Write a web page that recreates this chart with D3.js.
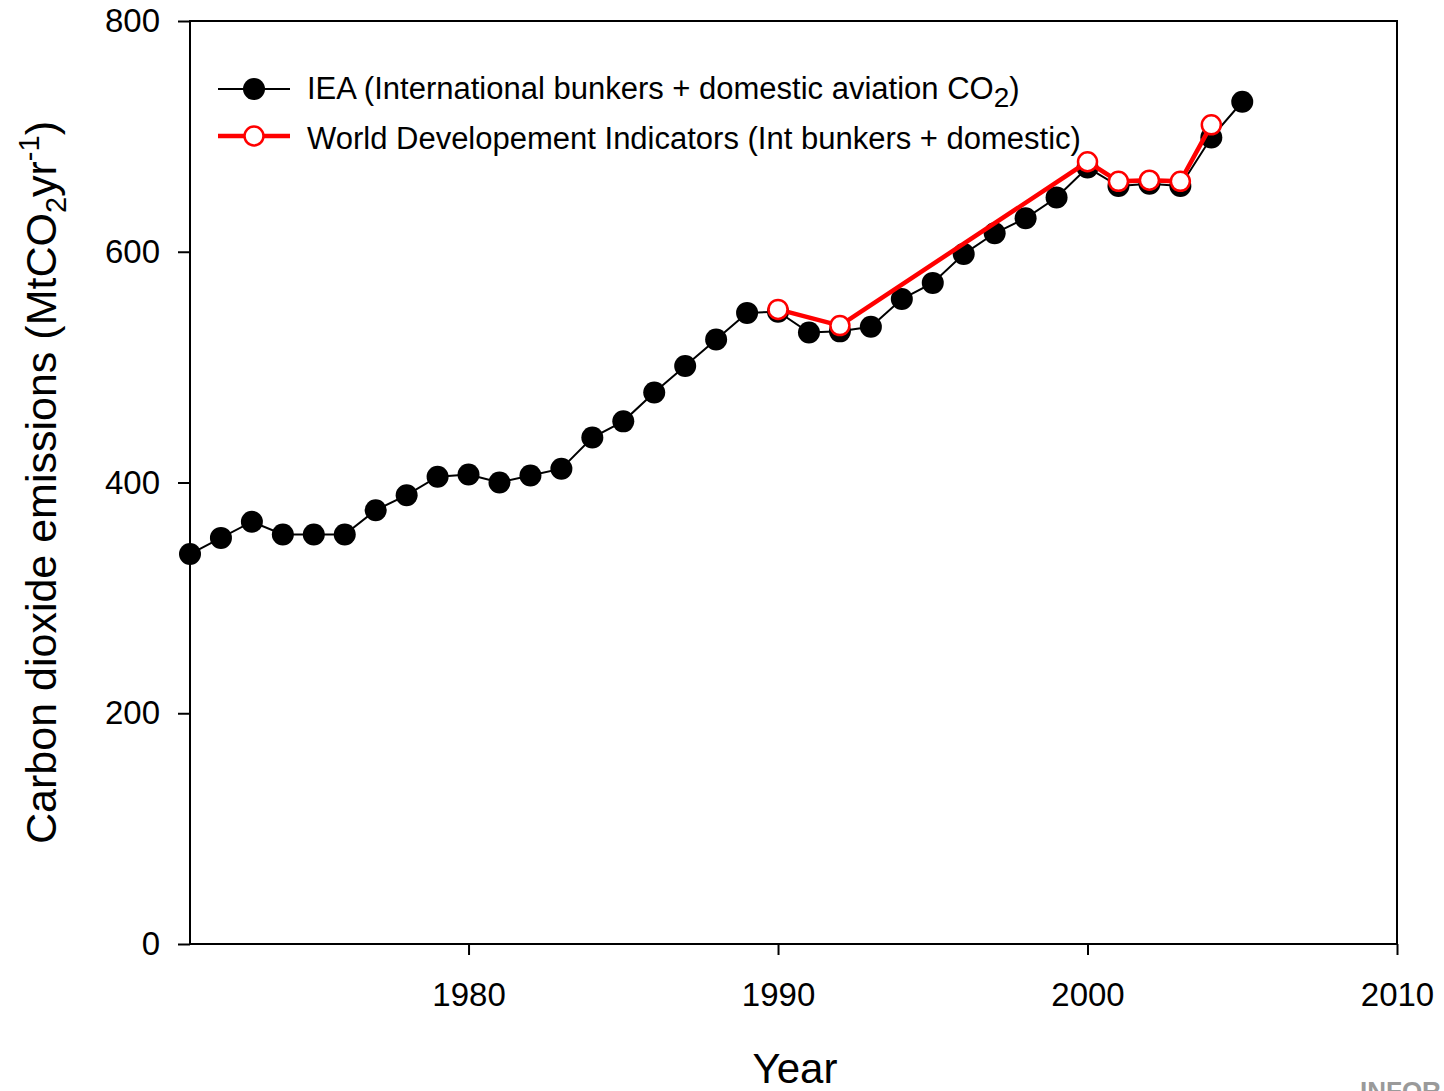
<!DOCTYPE html>
<html>
<head>
<meta charset="utf-8">
<script src="https://cdn.jsdelivr.net/npm/d3@7"></script>
<style>
  body { margin: 0; background: #fff; }
  text { font-family: "Liberation Sans", Arial, sans-serif; }
</style>
</head>
<body>
<div id="chart"></div>
<script>
// data
const ieaYears = [1971, 1972, 1973, 1974, 1975, 1976, 1977, 1978, 1979, 1980,
    1981, 1982, 1983, 1984, 1985, 1986, 1987, 1988, 1989, 1990,
    1991, 1992, 1993, 1994, 1995, 1996, 1997, 1998, 1999, 2000,
    2001, 2002, 2003, 2004, 2005];
const ieaValues = [338, 352, 366, 355, 355, 355, 376, 389, 405, 407,
    400, 406, 412, 439, 453, 478, 501, 524, 547, 548,
    530, 531, 535, 559, 573, 598, 616, 629, 647, 673,
    657, 659, 657, 699, 730];
const wdiYears = [1990, 1992, 2000, 2001, 2002, 2003, 2004];
const wdiValues = [550, 536, 678, 661, 662, 661, 710];
const xTicks = [1980, 1990, 2000, 2010];
const yTicks = [0, 200, 400, 600, 800];

const width = 1444;
const height = 1091;
const marginLeft = 190;
const marginRight = 47;
const marginTop = 21;
const marginBottom = 147;

const svg = d3.select("#chart")
    .append("svg")
    .attr("width", width)
    .attr("height", height);

const x = d3.scaleLinear()
    .domain([1971, 2010])
    .range([marginLeft, width - marginRight]);

const y = d3.scaleLinear()
    .domain([0, 800])
    .range([height - marginBottom, marginTop]);

// cadre
svg.append("rect")
    .attr("x", x(1971))
    .attr("y", y(800))
    .attr("width", x(2010) - x(1971))
    .attr("height", y(0) - y(800))
    .attr("fill", "none")
    .attr("stroke", "#000")
    .attr("stroke-width", 2);

// axe X
const xAxis = svg.append("g")
    .attr("transform", `translate(0,${y(0)})`)
    .call(d3.axisBottom(x).tickValues(xTicks).tickFormat(d3.format("d")).tickSize(11).tickSizeOuter(0).tickPadding(28));
xAxis.select(".domain").remove();
xAxis.selectAll("line").attr("stroke-width", 2);
xAxis.selectAll("text").attr("font-size", 33).attr("font-family", "Liberation Sans").attr("fill", "#000");

// axe Y
const yAxis = svg.append("g")
    .attr("transform", `translate(${x(1971)},0)`)
    .call(d3.axisLeft(y).tickValues(yTicks).tickSize(12).tickSizeOuter(0).tickPadding(18));
yAxis.select(".domain").remove();
yAxis.selectAll("line").attr("stroke-width", 2);
yAxis.selectAll("text").attr("font-size", 33).attr("font-family", "Liberation Sans").attr("fill", "#000");

// titres
svg.append("text")
    .attr("x", 795)
    .attr("y", 1083)
    .attr("text-anchor", "middle")
    .attr("font-size", 42)
    .text("Year");

const yTitle = svg.append("text")
    .attr("transform", `translate(56,${y(400)}) rotate(-90)`)
    .attr("text-anchor", "middle")
    .attr("font-size", 43);
yTitle.append("tspan").text("Carbon dioxide emissions (MtCO");
yTitle.append("tspan").attr("font-size", 29).attr("dy", 10).text("2");
yTitle.append("tspan").attr("dy", -10).text("yr");
yTitle.append("tspan").attr("font-size", 29).attr("dy", -17).text("-1");
yTitle.append("tspan").attr("dy", 17).text(")");

// séries
const ieaData = ieaYears.map((d, i) => ({year: d, value: ieaValues[i]}));
const wdiData = wdiYears.map((d, i) => ({year: d, value: wdiValues[i]}));

const line = d3.line()
    .x(d => x(d.year))
    .y(d => y(d.value));

svg.append("path")
    .datum(ieaData)
    .attr("d", line)
    .attr("fill", "none")
    .attr("stroke", "#000")
    .attr("stroke-width", 2);

svg.append("g")
    .selectAll("circle")
    .data(ieaData)
    .join("circle")
    .attr("cx", d => x(d.year))
    .attr("cy", d => y(d.value))
    .attr("r", 11)
    .attr("fill", "#000");

svg.append("path")
    .datum(wdiData)
    .attr("d", line)
    .attr("fill", "none")
    .attr("stroke", "#ff0000")
    .attr("stroke-width", 4.5);

svg.append("g")
    .selectAll("circle")
    .data(wdiData)
    .join("circle")
    .attr("cx", d => x(d.year))
    .attr("cy", d => y(d.value))
    .attr("r", 9.5)
    .attr("fill", "#fff")
    .attr("stroke", "#ff0000")
    .attr("stroke-width", 2.5);

// légende
const legend = svg.append("g");
legend.append("line").attr("x1", 218).attr("x2", 290).attr("y1", 89).attr("y2", 89)
    .attr("stroke", "#000").attr("stroke-width", 2);
legend.append("circle").attr("cx", 254).attr("cy", 89).attr("r", 11).attr("fill", "#000");
const t1 = legend.append("text").attr("x", 307).attr("y", 99).attr("font-size", 31);
t1.append("tspan").text("IEA (International bunkers + domestic aviation CO");
t1.append("tspan").attr("font-size", 28).attr("dy", 8).text("2");
t1.append("tspan").attr("dy", -8).text(")");

legend.append("line").attr("x1", 218).attr("x2", 290).attr("y1", 136).attr("y2", 136)
    .attr("stroke", "#ff0000").attr("stroke-width", 4.5);
legend.append("circle").attr("cx", 254).attr("cy", 136).attr("r", 9.5)
    .attr("fill", "#fff").attr("stroke", "#ff0000").attr("stroke-width", 2.5);
legend.append("text").attr("x", 307).attr("y", 149).attr("font-size", 31)
    .text("World Developement Indicators (Int bunkers + domestic)");

// filigrane (coupé en bas à droite, comme dans l'original)
svg.append("text")
    .attr("x", 1360)
    .attr("y", 1100)
    .attr("font-size", 26)
    .attr("font-weight", "bold")
    .attr("fill", "#9a9a9a")
    .text("INFOR");
</script>
</body>
</html>
